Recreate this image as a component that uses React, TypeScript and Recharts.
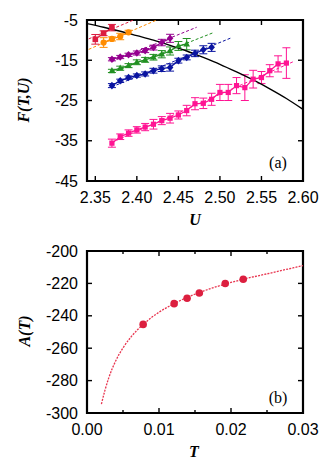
import React from "react";
import {
  ComposedChart, Line, Scatter, XAxis, YAxis, ErrorBar, ReferenceArea,
} from "recharts";

// ---- panel (a): F(T,U) vs U ----
const U_TICKS = [2.35, 2.4, 2.45, 2.5, 2.55, 2.6];
const F_TICKS = [-45, -35, -25, -15, -5];

const RED_U = [2.35, 2.36, 2.37];
const RED_F = [-9.8, -8.3, -6.9];
const RED_E = [1.2, 0.6, 0.8];

const ORANGE_U = [2.36, 2.37, 2.38, 2.39];
const ORANGE_F = [-10.6, -9.7, -9.1, -8.05];
const ORANGE_E = [1.2, 0.5, 0.8, 0.5];

const PURPLE_U = [2.37, 2.38, 2.39, 2.4, 2.41, 2.42, 2.43, 2.44];
const PURPLE_F = [-14.75, -14.2, -13.65, -13.2, -12.6, -11.85, -10.6, -9.55];
const PURPLE_E = [0.4, 0.4, 0.4, 0.5, 0.5, 0.6, 0.8, 1.0];

const GREEN_U = [2.37, 2.38, 2.39, 2.4, 2.41, 2.42, 2.43, 2.44, 2.45, 2.46];
const GREEN_F = [-17.65, -16.97, -16.34, -15.5, -14.9, -14.25, -13.5, -12.7, -11.45, -11.0];
const GREEN_E = [0.4, 0.5, 0.5, 0.6, 0.6, 0.7, 0.9, 1.0, 1.1, 1.4];

const BLUE_U = [2.37, 2.38, 2.39, 2.4, 2.41, 2.42, 2.43, 2.44, 2.45, 2.46, 2.47, 2.48, 2.49];
const BLUE_F = [-21.3, -20.1, -19.3, -18.8, -18.4, -17.6, -17.1, -16.8, -15.1, -14.3, -13.3, -12.4, -11.8];
const BLUE_E = [0.5, 0.4, 0.4, 0.4, 0.5, 0.6, 0.7, 0.9, 0.6, 0.6, 0.8, 1.0, 1.0];

const PINK_U = [2.37, 2.38, 2.39, 2.4, 2.41, 2.42, 2.43, 2.44, 2.45, 2.46, 2.47,
  2.48, 2.49, 2.5, 2.51, 2.52, 2.53, 2.54, 2.55, 2.56, 2.57, 2.58];
const PINK_F = [-35.6, -34.0, -33.1, -32.3, -31.6, -30.9, -30.0, -29.4, -28.6, -27.5, -25.8,
  -25.7, -24.7, -23.0, -23.0, -21.3, -21.8, -19.7, -19.3, -17.6, -15.9, -15.7];
const PINK_E = [1.0, 0.7, 0.8, 0.8, 0.9, 1.2, 1.0, 1.2, 1.0, 1.3, 1.5,
  1.3, 1.5, 2.0, 2.0, 2.0, 3.2, 2.2, 1.5, 1.5, 2.0, 3.8];

// dashed fits: [start, end]
const RED_FIT_U = [2.342, 2.396];
const RED_FIT_F = [-9.7, -5.0];
const ORANGE_FIT_U = [2.342, 2.424];
const ORANGE_FIT_F = [-12.3, -5.0];
const PURPLE_FIT_U = [2.37, 2.472];
const PURPLE_FIT_F = [-15.3, -6.8];
const GREEN_FIT_U = [2.37, 2.492];
const GREEN_FIT_F = [-18.1, -8.15];
const BLUE_FIT_U = [2.37, 2.514];
const BLUE_FIT_F = [-21.6, -9.4];
const PINK_FIT_U = [2.37, 2.59];
const PINK_FIT_F = [-35.4, -15.2];

// black boundary curve
const CURVE_U = [2.34, 2.36, 2.38, 2.4, 2.42, 2.44, 2.46, 2.48, 2.5, 2.52, 2.54, 2.56, 2.58, 2.6];
const CURVE_F = [-5.9, -6.8, -7.8, -8.9, -10.0, -11.3, -12.7, -14.3, -16.0, -17.9, -19.9, -22.1, -24.5, -27.2];

// ---- panel (b): A(T) vs T ----
const T_TICKS = [0, 0.005, 0.01, 0.015, 0.02, 0.025, 0.03];
const A_TICKS = [-300, -280, -260, -240, -220, -200];
const PTS_T = [0.0078, 0.0121, 0.0139, 0.0156, 0.0192, 0.0217];
const PTS_A = [-245.3, -232.5, -229.2, -225.9, -220.1, -217.4];
const FIT_T = [0.002, 0.0025, 0.003, 0.004, 0.005, 0.006, 0.007, 0.008, 0.01,
  0.012, 0.014, 0.016, 0.018, 0.02, 0.022, 0.025, 0.03];
const FIT_A = [-294.5, -285.9, -278.6, -267.7, -259.8, -253.7, -248.7, -244.5, -237.8,
  -232.7, -228.5, -225.0, -222.0, -219.4, -217.1, -214.1, -209.0];

const W = 332;
const H_A = 232;
const H_B = 233;
const LEFT = 87;
const RIGHT = 303;
const TICK_FONT = "'Liberation Sans', Arial, Helvetica, sans-serif";
const TITLE_FONT = "'Liberation Serif', 'Times New Roman', serif";

const C = {
  red: "#dc1c40",
  orange: "#ff8c00",
  purple: "#94008e",
  green: "#229022",
  blue: "#0a14a0",
  pink: "#ff1493",
  crimson: "#dc1f3f",
};

function rows(us: number[], fs: number[], es?: number[]) {
  return us.map((u, i) => ({ u, f: fs[i], e: es ? es[i] : 0 }));
}

type Shape = "square" | "circle" | "diamond" | "triangle";

function markerFor(shape: Shape, color: string, s = 3) {
  // eslint-disable-next-line @typescript-eslint/no-explicit-any
  return (p: any) => {
    const { cx, cy, index } = p;
    if (cx == null || cy == null) return <g key={index} />;
    if (shape === "square")
      return <rect key={index} x={cx - s} y={cy - s} width={2 * s} height={2 * s} fill={color} />;
    if (shape === "diamond")
      return <polygon key={index} points={`${cx},${cy - s - 1} ${cx + s + 0.5},${cy} ${cx},${cy + s + 1} ${cx - s - 0.5},${cy}`} fill={color} />;
    if (shape === "triangle")
      return <polygon key={index} points={`${cx},${cy - s - 1} ${cx + s + 0.5},${cy + s - 0.5} ${cx - s - 0.5},${cy + s - 0.5}`} fill={color} />;
    return <circle key={index} cx={cx} cy={cy} r={s + 0.3} fill={color} />;
  };
}

function makeXTick(top: number, bottom: number, label: (v: number) => string | null) {
  // eslint-disable-next-line @typescript-eslint/no-explicit-any
  return (p: any) => {
    const x = p.x;
    const v = p.payload.value;
    const txt = label(v);
    const len = txt ? 5 : 3;
    return (
      <g key={p.index}>
        <line x1={x} x2={x} y1={bottom} y2={bottom - len} stroke="#000" strokeWidth={1.4} />
        <line x1={x} x2={x} y1={top} y2={top + len} stroke="#000" strokeWidth={1.4} />
        {txt && (
          <text x={x} y={bottom + 22} textAnchor="middle" fontSize={16} fontFamily={TICK_FONT} fill="#000">
            {txt}
          </text>
        )}
      </g>
    );
  };
}

function makeYTick() {
  // eslint-disable-next-line @typescript-eslint/no-explicit-any
  return (p: any) => {
    const y = p.y;
    return (
      <g key={p.index}>
        <line x1={LEFT} x2={LEFT + 5} y1={y} y2={y} stroke="#000" strokeWidth={1.4} />
        <line x1={RIGHT} x2={RIGHT - 5} y1={y} y2={y} stroke="#000" strokeWidth={1.4} />
        <text x={78} y={y} dy={5.5} textAnchor="end" fontSize={16} fontFamily={TICK_FONT} fill="#000">
          {p.payload.value}
        </text>
      </g>
    );
  };
}

const series = [
  { pts: rows(RED_U, RED_F, RED_E), fit: rows(RED_FIT_U, RED_FIT_F), color: C.red, shape: "square" as Shape },
  { pts: rows(ORANGE_U, ORANGE_F, ORANGE_E), fit: rows(ORANGE_FIT_U, ORANGE_FIT_F), color: C.orange, shape: "circle" as Shape },
  { pts: rows(PURPLE_U, PURPLE_F, PURPLE_E), fit: rows(PURPLE_FIT_U, PURPLE_FIT_F), color: C.purple, shape: "diamond" as Shape },
  { pts: rows(GREEN_U, GREEN_F, GREEN_E), fit: rows(GREEN_FIT_U, GREEN_FIT_F), color: C.green, shape: "triangle" as Shape },
  { pts: rows(BLUE_U, BLUE_F, BLUE_E), fit: rows(BLUE_FIT_U, BLUE_FIT_F), color: C.blue, shape: "diamond" as Shape },
  { pts: rows(PINK_U, PINK_F, PINK_E), fit: rows(PINK_FIT_U, PINK_FIT_F), color: C.pink, shape: "square" as Shape },
];

const curveData = rows(CURVE_U, CURVE_F);
const bPoints = PTS_T.map((t, i) => ({ t, a: PTS_A[i] }));
const bFit = FIT_T.map((t, i) => ({ t, a: FIT_A[i] }));

const titleStyle: React.CSSProperties = {
  position: "absolute",
  fontFamily: TITLE_FONT,
  fontWeight: "bold",
  fontStyle: "italic",
  fontSize: 16,
  whiteSpace: "nowrap",
  lineHeight: 1,
};
const tagStyle: React.CSSProperties = {
  position: "absolute",
  fontFamily: TITLE_FONT,
  fontSize: 16,
  lineHeight: 1,
};

function PanelA() {
  const top = 20;
  const bottom = 181;
  return (
    <ComposedChart width={W} height={H_A} margin={{ top, right: W - RIGHT, left: 0, bottom: 0 }}>
      <XAxis type="number" dataKey="u" domain={[2.34, 2.6]} ticks={U_TICKS} interval={0}
        allowDataOverflow height={H_A - bottom} axisLine={false} tickLine={false}
        tick={makeXTick(top, bottom, (v) => v.toFixed(2))} />
      <YAxis type="number" domain={[-45, -5]} ticks={F_TICKS} interval={0}
        allowDataOverflow width={LEFT} axisLine={false} tickLine={false} tick={makeYTick()} />
      {series.map((s, i) => (
        <Line key={`fit${i}`} data={s.fit} dataKey="f" stroke={s.color} strokeWidth={1}
          strokeDasharray="3 2" dot={false} isAnimationActive={false} />
      ))}
      {series.map((s, i) => (
        <Line key={`pts${i}`} data={s.pts} dataKey="f" stroke={s.color} strokeWidth={1.3}
          dot={markerFor(s.shape, s.color, i === 5 ? 2.6 : 2.8)} isAnimationActive={false}>
          <ErrorBar dataKey="e" direction="y" width={4} stroke={s.color} strokeWidth={1} />
        </Line>
      ))}
      <Line data={curveData} dataKey="f" type="monotone" stroke="#000" strokeWidth={1.4}
        dot={false} isAnimationActive={false} />
      <ReferenceArea x1={2.34} x2={2.6} y1={-45} y2={-5} fill="none" stroke="#000"
        strokeWidth={2.2} ifOverflow="visible" />
    </ComposedChart>
  );
}

function PanelB() {
  const top = 19;
  const bottom = 181;
  return (
    <ComposedChart width={W} height={H_B} margin={{ top, right: W - RIGHT, left: 0, bottom: 0 }}>
      <XAxis type="number" dataKey="t" domain={[0, 0.03]} ticks={T_TICKS} interval={0}
        allowDataOverflow height={H_B - bottom} axisLine={false} tickLine={false}
        tick={makeXTick(top, bottom, (v) => (Math.round(v * 1000) % 10 === 0 ? v.toFixed(2) : null))} />
      <YAxis type="number" domain={[-300, -200]} ticks={A_TICKS} interval={0}
        allowDataOverflow width={LEFT} axisLine={false} tickLine={false} tick={makeYTick()} />
      <Line data={bFit} dataKey="a" type="monotone" stroke="#e8354f" strokeWidth={1.3}
        strokeDasharray="2 1.2" dot={false} isAnimationActive={false} />
      <Scatter data={bPoints} dataKey="a" fill={C.crimson} isAnimationActive={false}
        // eslint-disable-next-line @typescript-eslint/no-explicit-any
        shape={(p: any) => <circle cx={p.cx} cy={p.cy} r={3.8} fill={C.crimson} />} />
      <ReferenceArea x1={0} x2={0.03} y1={-300} y2={-200} fill="none" stroke="#000"
        strokeWidth={2.2} ifOverflow="visible" />
    </ComposedChart>
  );
}

export default function App() {
  return (
    <div style={{ position: "absolute", left: 0, top: 0, width: W, height: H_A + H_B, background: "#fff" }}>
      <div style={{ position: "absolute", left: 0, top: 0 }}>
        <PanelA />
      </div>
      <div style={{ position: "absolute", left: 0, top: H_A }}>
        <PanelB />
      </div>
      <div style={{ ...titleStyle, left: 24, top: 100, transform: "translate(-50%, -50%) rotate(-90deg)" }}>
        F(T,U)
      </div>
      <div style={{ ...titleStyle, left: 195, top: 220, transform: "translate(-50%, -50%)" }}>U</div>
      <div style={{ ...tagStyle, left: 278, top: 163, transform: "translate(-50%, -50%)" }}>(a)</div>
      <div style={{ ...titleStyle, left: 25, top: 331, transform: "translate(-50%, -50%) rotate(-90deg)" }}>
        A(T)
      </div>
      <div style={{ ...titleStyle, left: 194, top: 452, transform: "translate(-50%, -50%)" }}>T</div>
      <div style={{ ...tagStyle, left: 278, top: 398, transform: "translate(-50%, -50%)" }}>(b)</div>
    </div>
  );
}
